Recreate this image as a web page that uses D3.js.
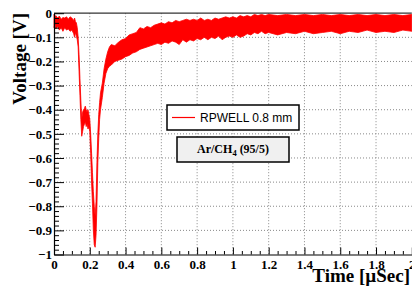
<!DOCTYPE html>
<html lang="en">
<head>
    <meta charset="UTF-8">
    <title>RPWELL signal</title>
    <script src="https://d3js.org/d3.v7.min.js"></script>
    <style>
        body{
            margin: 0;
            background-color: white;
        }
        #canvas{
            display: block;
        }
        .axis path.domain{
            stroke: black;
            stroke-width: 1.2px;
        }
        .axis line{
            stroke: black;
            stroke-width: 1px;
        }
        .grid line{
            stroke: #888;
            stroke-width: 1px;
            stroke-dasharray: 1,2;
        }
    </style>
</head>
<body>
    <svg id="canvas" width="412" height="288"></svg>
    <script>
        // tick labels
        let xTicks = [0, 0.2, 0.4, 0.6, 0.8, 1, 1.2, 1.4, 1.6, 1.8, 2];
        let yTicks = [0, -0.1, -0.2, -0.3, -0.4, -0.5, -0.6, -0.7, -0.8, -0.9, -1];

        // waveform: time [uSec], upper and lower edge of the noisy trace [V]
        let time = [0, 0.005, 0.01, 0.02, 0.03, 0.04, 0.05, 0.06, 0.07, 0.08, 0.09, 0.1, 0.11, 0.115, 0.12, 0.125, 0.13,
            0.135, 0.14, 0.145, 0.15, 0.155, 0.16, 0.165, 0.17, 0.175, 0.18, 0.185, 0.19, 0.195, 0.2,
            0.205, 0.21, 0.215, 0.22, 0.225, 0.23, 0.235, 0.24, 0.245, 0.25, 0.255, 0.26, 0.27, 0.28, 0.29, 0.3,
            0.31, 0.32, 0.34, 0.36, 0.38, 0.4, 0.42, 0.44, 0.46, 0.48, 0.5, 0.52, 0.54, 0.56, 0.58, 0.6,
            0.62, 0.64, 0.66, 0.68, 0.7, 0.72, 0.74, 0.76, 0.78, 0.8, 0.82, 0.84, 0.86, 0.88, 0.9,
            0.92, 0.94, 0.96, 0.98, 1, 1.02, 1.04, 1.06, 1.08, 1.1, 1.12, 1.14, 1.16, 1.18, 1.2,
            1.25, 1.3, 1.35, 1.4, 1.45, 1.5, 1.55, 1.6, 1.65, 1.7, 1.75, 1.8, 1.85, 1.9, 1.95, 2];
        let upper = [-0.005, -0.015, -0.01, -0.02, -0.012, -0.025, -0.018, -0.02, -0.015, -0.025, -0.015, -0.02, -0.03, -0.02, -0.035, -0.04, -0.06,
            -0.1, -0.17, -0.27, -0.36, -0.44, -0.41, -0.4, -0.395, -0.385, -0.4, -0.41, -0.4, -0.42, -0.44,
            -0.5, -0.58, -0.66, -0.74, -0.8, -0.84, -0.78, -0.62, -0.5, -0.42, -0.37, -0.33, -0.29, -0.23, -0.19, -0.16,
            -0.14, -0.13, -0.135, -0.12, -0.11, -0.105, -0.09, -0.085, -0.08, -0.06, -0.065, -0.055, -0.06, -0.05, -0.045, -0.04,
            -0.045, -0.035, -0.04, -0.03, -0.035, -0.03, -0.025, -0.03, -0.025, -0.03, -0.02, -0.03, -0.025, -0.03, -0.02,
            -0.025, -0.02, -0.015, -0.02, -0.015, -0.02, -0.01, -0.015, -0.01, -0.015, -0.005, -0.01, -0.005, -0.01, -0.005,
            -0.01, -0.005, -0.01, -0.005, -0.01, -0.005, -0.01, -0.005, -0.01, -0.005, -0.01, -0.005, -0.01, -0.005, -0.01, -0.005];
        let lower = [-0.06, -0.045, -0.065, -0.055, -0.07, -0.06, -0.075, -0.06, -0.07, -0.065, -0.075, -0.07, -0.085, -0.1, -0.08, -0.095, -0.11,
            -0.14, -0.24, -0.34, -0.44, -0.51, -0.49, -0.47, -0.46, -0.45, -0.47, -0.46, -0.48, -0.47, -0.49,
            -0.58, -0.7, -0.79, -0.9, -0.96, -0.97, -0.92, -0.8, -0.62, -0.52, -0.44, -0.4, -0.35, -0.29, -0.25, -0.23,
            -0.22, -0.215, -0.2, -0.195, -0.19, -0.18, -0.175, -0.165, -0.16, -0.15, -0.145, -0.14, -0.135, -0.13, -0.125, -0.13,
            -0.12, -0.125, -0.115, -0.12, -0.13, -0.11, -0.12, -0.11, -0.115, -0.105, -0.11, -0.1, -0.11, -0.1, -0.105,
            -0.095, -0.11, -0.1, -0.095, -0.1, -0.09, -0.1, -0.095, -0.085, -0.09, -0.08, -0.085, -0.075, -0.085, -0.08,
            -0.09, -0.08, -0.085, -0.075, -0.085, -0.08, -0.075, -0.085, -0.075, -0.08, -0.07, -0.08, -0.075, -0.08, -0.07, -0.075];

        let legendLabel = 'RPWELL 0.8 mm';

        let svg = d3.select('svg');

        let x = d3.scaleLinear().domain([0, 2]).range([54, 411.8]);
        let y = d3.scaleLinear().domain([-1, 0]).range([254.5, 13.2]);

        // grid
        let grid = svg.append('g').attr('class', 'grid');
        grid.selectAll('line.gx')
            .data(xTicks.slice(1, -1))
            .enter()
            .append('line')
            .attr('x1', d => x(d)).attr('x2', d => x(d))
            .attr('y1', y(0)).attr('y2', y(-1));
        grid.selectAll('line.gy')
            .data(yTicks.slice(1, -1))
            .enter()
            .append('line')
            .attr('x1', x(0)).attr('x2', x(2))
            .attr('y1', d => y(d)).attr('y2', d => y(d));

        // the trace
        let points = time.map((t, i) => ({t: t, hi: upper[i], lo: lower[i]}));
        let area = d3.area()
            .x(d => x(d.t))
            .y0(d => y(d.lo))
            .y1(d => y(d.hi));
        svg.append('path')
            .datum(points)
            .attr('d', area)
            .attr('fill', 'red')
            .attr('stroke', 'red')
            .attr('stroke-width', 0.8)
            .attr('stroke-linejoin', 'round');

        // frame top
        svg.append('line')
            .attr('x1', x(0)).attr('x2', x(2))
            .attr('y1', y(0)).attr('y2', y(0))
            .attr('stroke', '#333').attr('stroke-width', 1.2);

        // axes, ticks pointing inside like ROOT
        let fmt = d3.format('~g');
        let minorX = d3.range(0, 41).map(i => i * 0.05).filter(v => Math.round(v * 100) % 20 != 0);
        let minorY = d3.range(0, 51).map(i => -i * 0.02).filter(v => Math.round(v * 100) % 10 != 0);

        function labelStyle(g){
            g.attr('font-family', null).attr('font-size', null);
            g.selectAll('text')
                .attr('font-family', '"Liberation Serif", serif')
                .attr('font-weight', 'bold')
                .attr('font-size', 13)
                .attr('fill', 'black');
        }

        svg.append('g')
            .attr('class', 'axis')
            .attr('transform', 'translate(0,' + y(-1) + ')')
            .call(d3.axisBottom(x).tickValues(minorX).tickSize(-3.5).tickFormat(''))
            .call(g => g.select('.domain').remove());
        svg.append('g')
            .attr('class', 'axis')
            .attr('transform', 'translate(0,' + y(-1) + ')')
            .call(d3.axisBottom(x).tickValues(xTicks).tickSize(-7).tickSizeOuter(0).tickPadding(5).tickFormat(fmt))
            .call(labelStyle);

        svg.append('g')
            .attr('class', 'axis')
            .attr('transform', 'translate(' + x(0) + ',0)')
            .call(d3.axisLeft(y).tickValues(minorY).tickSize(-5).tickFormat(''))
            .call(g => g.select('.domain').remove());
        svg.append('g')
            .attr('class', 'axis')
            .attr('transform', 'translate(' + x(0) + ',0)')
            .call(d3.axisLeft(y).tickValues(yTicks).tickSize(-10).tickSizeOuter(0).tickPadding(2).tickFormat(fmt))
            .call(labelStyle);

        // axis titles
        svg.append('text')
            .attr('x', 410).attr('y', 281.5)
            .attr('text-anchor', 'end')
            .style('font-family', '"Liberation Serif", serif')
            .style('font-weight', 'bold')
            .style('font-size', '19px')
            .text('Time [\u00b5Sec]');
        svg.append('text')
            .attr('transform', 'translate(26,13) rotate(-90)')
            .attr('text-anchor', 'end')
            .style('font-family', '"Liberation Serif", serif')
            .style('font-weight', 'bold')
            .style('font-size', '19px')
            .text('Voltage [V]');

        // legend
        let legend = svg.append('g');
        legend.append('rect')
            .attr('x', 167).attr('y', 105).attr('width', 132).attr('height', 25)
            .attr('fill', 'white').attr('stroke', 'black').attr('stroke-width', 1.5);
        legend.append('line')
            .attr('x1', 172).attr('x2', 195).attr('y1', 117.5).attr('y2', 117.5)
            .attr('stroke', 'red').attr('stroke-width', 1.2);
        legend.append('text')
            .attr('x', 200).attr('y', 122)
            .style('font-family', '"Liberation Sans", sans-serif')
            .style('font-size', '12px')
            .text(legendLabel);

        // gas label
        let pave = svg.append('g');
        pave.append('rect')
            .attr('x', 177).attr('y', 137).attr('width', 112).attr('height', 25)
            .attr('fill', '#f0f0f0').attr('stroke', 'black').attr('stroke-width', 1.5);
        let gas = pave.append('text')
            .attr('x', 233).attr('y', 153)
            .attr('text-anchor', 'middle')
            .style('font-family', '"Liberation Serif", serif')
            .style('font-weight', 'bold')
            .style('font-size', '12px');
        gas.append('tspan').text('Ar/CH');
        gas.append('tspan').attr('dy', 3).style('font-size', '8.5px').text('4');
        gas.append('tspan').attr('dy', -3).text(' (95/5)');
    </script>
</body>
</html>
